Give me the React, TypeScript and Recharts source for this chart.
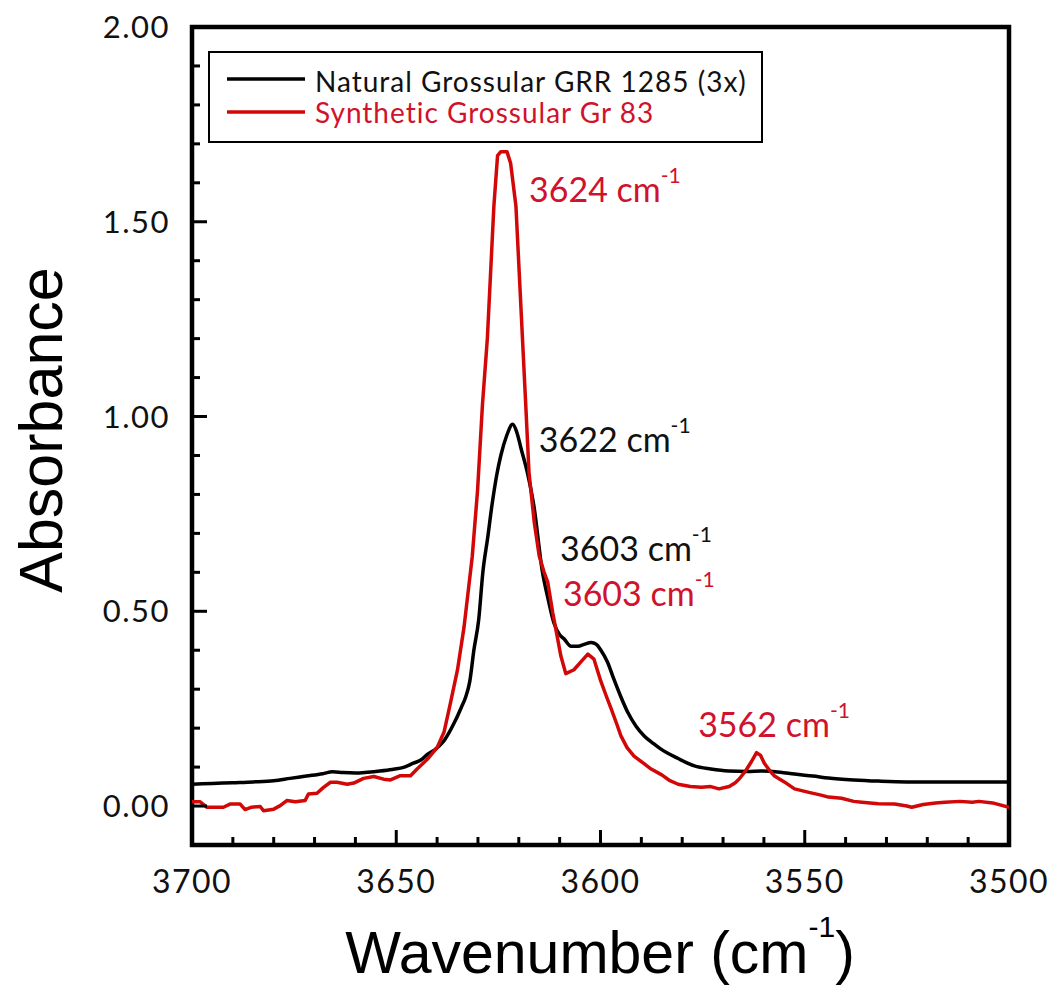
import React from "react";
import { LineChart, Line, XAxis, YAxis, ReferenceArea, ReferenceDot } from "recharts";

// Natural Grossular GRR 1285 (3x)
const naturalWavenumbers = [
    3700, 3695, 3690, 3685, 3680, 3676, 3672, 3668, 3665.6, 3663, 3660, 3657, 3654, 3651, 3648,
    3645.8, 3644, 3642.3, 3640.5, 3638.5, 3637, 3635.5, 3634, 3633, 3632, 3631, 3629.8, 3628.8,
    3627.6, 3626.6, 3625.4, 3624.4, 3623, 3621.5, 3620.5, 3619.5, 3617.9, 3616.3, 3614.2, 3612.8,
    3611.4, 3610, 3609, 3607.2, 3605.5, 3604, 3602.3, 3601, 3599.9, 3598.3, 3596.7, 3595, 3593.3,
    3591.3, 3589.3, 3587, 3585.2, 3581, 3577, 3573, 3568.7, 3564, 3560.6, 3556, 3552.5, 3548,
    3544.2, 3538, 3532, 3525, 3515, 3500
];
const naturalAbsorbance = [
    0.056, 0.058, 0.06, 0.062, 0.065, 0.071, 0.077, 0.083, 0.088, 0.086, 0.085, 0.087, 0.09, 0.094, 0.1,
    0.11, 0.118, 0.133, 0.145, 0.165, 0.19, 0.22, 0.255, 0.28, 0.32, 0.4, 0.48, 0.6,
    0.69, 0.77, 0.85, 0.9, 0.95, 0.98, 0.96, 0.92, 0.856, 0.77, 0.6, 0.53,
    0.47, 0.44, 0.43, 0.41, 0.41, 0.415, 0.42, 0.415, 0.4, 0.37, 0.325, 0.28, 0.24,
    0.205, 0.18, 0.16, 0.146, 0.122, 0.103, 0.095, 0.09, 0.089, 0.09, 0.087, 0.082, 0.077,
    0.072, 0.067, 0.064, 0.062, 0.062, 0.062
];

// Synthetic Grossular Gr 83
const syntheticWavenumbers = [
    3700, 3698, 3696.4, 3692.3, 3690.7, 3688.2, 3687, 3685.4, 3683.3, 3682.5, 3680, 3678.4, 3676.8,
    3674.7, 3672.3, 3671.5, 3669.4, 3667.8, 3666.1, 3664.5, 3662, 3660.4, 3658, 3655.5, 3653.1,
    3651.4, 3649, 3646.5, 3644.9, 3642.4, 3640, 3638.3, 3636.7, 3635, 3633.4, 3631.4, 3630.1,
    3628.9, 3627.7, 3626.9, 3626.1, 3625.2, 3624.4, 3622.9, 3622, 3620.7, 3619.9, 3619.1, 3618.3,
    3617.5, 3616.2, 3615, 3613.8, 3612.9, 3611.7, 3610.5, 3609.7, 3608.5, 3606.5, 3604.8, 3603.1,
    3601.6, 3599.9, 3598.5, 3597.4, 3596, 3595, 3593.5, 3591.8, 3589.5, 3587.6, 3585, 3583, 3581,
    3578, 3575.3, 3573, 3571, 3568.5, 3567, 3566, 3564.5, 3563, 3561.8, 3560.8, 3559.9, 3558.5,
    3557.4, 3555, 3552.5, 3549, 3546, 3544.2, 3541, 3538, 3536, 3532, 3528, 3525, 3523.8, 3521,
    3518, 3515.7, 3512, 3509, 3507.4, 3504, 3500
];
const syntheticAbsorbance = [
    0.011, 0.011, -0.003, -0.003, 0.005, 0.005, -0.009, -0.003, -0.001, -0.012, -0.008, 0.001, 0.014,
    0.011, 0.014, 0.031, 0.033, 0.048, 0.061, 0.061, 0.056, 0.059, 0.071, 0.076, 0.069,
    0.067, 0.078, 0.078, 0.095, 0.12, 0.15, 0.19, 0.266, 0.35, 0.46, 0.64, 0.81,
    1.03, 1.2, 1.37, 1.54, 1.67, 1.68, 1.68, 1.65, 1.54, 1.37, 1.2, 1.03,
    0.856, 0.727, 0.642, 0.6, 0.574, 0.497, 0.43, 0.385, 0.34, 0.35, 0.37, 0.39,
    0.377, 0.32, 0.28, 0.25, 0.21, 0.18, 0.15, 0.128, 0.11, 0.095, 0.08, 0.065, 0.056,
    0.05, 0.048, 0.05, 0.044, 0.05, 0.06, 0.07, 0.09, 0.115, 0.137, 0.13, 0.11, 0.09,
    0.077, 0.062, 0.044, 0.035, 0.028, 0.023, 0.02, 0.012, 0.01, 0.006, 0.005, 0, -0.003, 0.004,
    0.008, 0.01, 0.012, 0.01, 0.012, 0.008, -0.003
];

const xTicks = [
    3500, 3510, 3520, 3530, 3540, 3550, 3560, 3570, 3580, 3590, 3600,
    3610, 3620, 3630, 3640, 3650, 3660, 3670, 3680, 3690, 3700
];
const yTicks = [
    0, 0.1, 0.2, 0.3, 0.4, 0.5, 0.6, 0.7, 0.8, 0.9, 1.0,
    1.1, 1.2, 1.3, 1.4, 1.5, 1.6, 1.7, 1.8, 1.9, 2.0
];

const peakLabels = ["3624", "3622", "3603", "3603", "3562"];
const peakLabelWavenumbers = [3617.5, 3615.1, 3609.9, 3609.2, 3576.1];
const peakLabelAbsorbance = [1.551, 0.908, 0.628, 0.513, 0.177];
const peakLabelSeries = ["synthetic", "natural", "natural", "synthetic", "synthetic"];

const BLACK = "#000000";
const RED_LINE = "#d20808";
const RED_TEXT = "#d0122c";
const TICK_FONT = "Lato, 'Noto Sans', sans-serif";
const TITLE_FONT = "'Liberation Sans', Arial, sans-serif";

const naturalData = naturalWavenumbers.map((wn, i) => ({ wn, abs: naturalAbsorbance[i] }));
const syntheticData = syntheticWavenumbers.map((wn, i) => ({ wn, abs: syntheticAbsorbance[i] }));

const isMajorX = (v: number) => v % 50 === 0;
const isMajorY = (v: number) => Math.round(v * 10) % 5 === 0;

// tickSize/tickMargin are 0, so x,y handed to the tick is the point on the frame
const renderBottomTick = ({ x, y, payload }: any) => {
    const major = isMajorX(payload.value);
    return (
        <g>
            <line x1={x} x2={x} y1={y} y2={y - (major ? 15 : 8)} stroke={BLACK} strokeWidth={3} />
            {major && (
                <text x={x} y={y + 48} textAnchor="middle" fontFamily={TICK_FONT} fontSize={32} letterSpacing={1.5} fill="#111">
                    {payload.value}
                </text>
            )}
        </g>
    );
};

const renderTopTick = ({ x, y, payload }: any) => (
    <line x1={x} x2={x} y1={y} y2={y + (isMajorX(payload.value) ? 15 : 8)} stroke={BLACK} strokeWidth={3} />
);

const renderLeftTick = ({ x, y, payload }: any) => {
    const major = isMajorY(payload.value);
    return (
        <g>
            <line x1={x} x2={x + (major ? 15 : 8)} y1={y} y2={y} stroke={BLACK} strokeWidth={3} />
            {major && (
                <text x={x - 22} y={y} dy="0.36em" textAnchor="end" fontFamily={TICK_FONT} fontSize={31} letterSpacing={1.5} fill="#111">
                    {Number(payload.value).toFixed(2)}
                </text>
            )}
        </g>
    );
};

const renderRightTick = ({ x, y, payload }: any) => (
    <line x1={x} x2={x - (isMajorY(payload.value) ? 15 : 8)} y1={y} y2={y} stroke={BLACK} strokeWidth={3} />
);

const PeakText = ({ cx, cy, text, color }: any) => (
    <text x={cx} y={cy} fontFamily={TICK_FONT} fontSize={34} fill={color}>
        {text} cm
        <tspan fontSize={21} dy={-19}>-1</tspan>
    </text>
);

export default function App() {
    return (
        <div style={{ position: "absolute", left: 0, top: 0, width: 1056, height: 996, background: "#fff" }}>
            <LineChart width={1056} height={996} margin={{ top: 26, right: 46, bottom: 91, left: 92 }}>
                <XAxis
                    xAxisId="bottom"
                    dataKey="wn"
                    type="number"
                    domain={[3500, 3700]}
                    reversed
                    ticks={xTicks}
                    interval={0}
                    height={60}
                    tickSize={0}
                    tickMargin={0}
                    tickLine={false}
                    axisLine={false}
                    tick={renderBottomTick}
                    allowDataOverflow
                />
                <XAxis
                    xAxisId="top"
                    orientation="top"
                    type="number"
                    domain={[3500, 3700]}
                    reversed
                    ticks={xTicks}
                    interval={0}
                    height={1}
                    tickSize={0}
                    tickMargin={0}
                    tickLine={false}
                    axisLine={false}
                    tick={renderTopTick}
                />
                <YAxis
                    yAxisId="left"
                    type="number"
                    domain={[-0.1, 2.0]}
                    ticks={yTicks}
                    interval={0}
                    width={100}
                    tickSize={0}
                    tickMargin={0}
                    tickLine={false}
                    axisLine={false}
                    tick={renderLeftTick}
                    allowDataOverflow
                />
                <YAxis
                    yAxisId="right"
                    orientation="right"
                    type="number"
                    domain={[-0.1, 2.0]}
                    ticks={yTicks}
                    interval={0}
                    width={1}
                    tickSize={0}
                    tickMargin={0}
                    tickLine={false}
                    axisLine={false}
                    tick={renderRightTick}
                />
                <Line
                    xAxisId="bottom"
                    yAxisId="left"
                    data={naturalData}
                    dataKey="abs"
                    type="monotone"
                    stroke={BLACK}
                    strokeWidth={3.5}
                    dot={false}
                    isAnimationActive={false}
                />
                <Line
                    xAxisId="bottom"
                    yAxisId="left"
                    data={syntheticData}
                    dataKey="abs"
                    type="linear"
                    stroke={RED_LINE}
                    strokeWidth={3.5}
                    strokeLinejoin="round"
                    dot={false}
                    isAnimationActive={false}
                />
                <ReferenceArea
                    xAxisId="bottom"
                    yAxisId="left"
                    x1={3500}
                    x2={3700}
                    y1={-0.1}
                    y2={2.0}
                    fill="none"
                    fillOpacity={0}
                    stroke={BLACK}
                    strokeWidth={4.5}
                />
                {peakLabels.map((label, i) => (
                    <ReferenceDot
                        key={i}
                        xAxisId="bottom"
                        yAxisId="left"
                        x={peakLabelWavenumbers[i]}
                        y={peakLabelAbsorbance[i]}
                        r={0}
                        shape={(p: any) => (
                            <PeakText
                                cx={p.cx}
                                cy={p.cy}
                                text={label}
                                color={peakLabelSeries[i] === "natural" ? "#111" : RED_TEXT}
                            />
                        )}
                    />
                ))}
            </LineChart>

            {/* legend box */}
            <svg style={{ position: "absolute", left: 208, top: 51 }} width={556} height={93}>
                <rect x={1} y={1} width={553} height={90} fill="#fff" stroke={BLACK} strokeWidth={2} />
                <line x1={19} x2={97} y1={28} y2={28} stroke={BLACK} strokeWidth={3.5} />
                <line x1={19} x2={97} y1={61} y2={61} stroke={RED_LINE} strokeWidth={3.5} />
                <text x={107} y={41} fontFamily={TICK_FONT} fontSize={28} letterSpacing={1} fill="#111">
                    Natural Grossular GRR 1285 (3x)
                </text>
                <text x={107} y={72} fontFamily={TICK_FONT} fontSize={28} letterSpacing={1} fill={RED_TEXT}>
                    Synthetic Grossular Gr 83
                </text>
            </svg>

            {/* axis titles */}
            <svg style={{ position: "absolute", left: 0, top: 0, pointerEvents: "none" }} width={1056} height={996}>
                <text
                    transform="translate(62, 430) rotate(-90)"
                    textAnchor="middle"
                    fontFamily={TITLE_FONT}
                    fontSize={61}
                    fill="#000"
                >
                    Absorbance
                </text>
                <text x={600} y={973} textAnchor="middle" fontFamily={TITLE_FONT} fontSize={59} fill="#000">
                    Wavenumber (cm
                    <tspan fontSize={30} dy={-36}>-1</tspan>
                    <tspan dy={36}>)</tspan>
                </text>
            </svg>
        </div>
    );
}
